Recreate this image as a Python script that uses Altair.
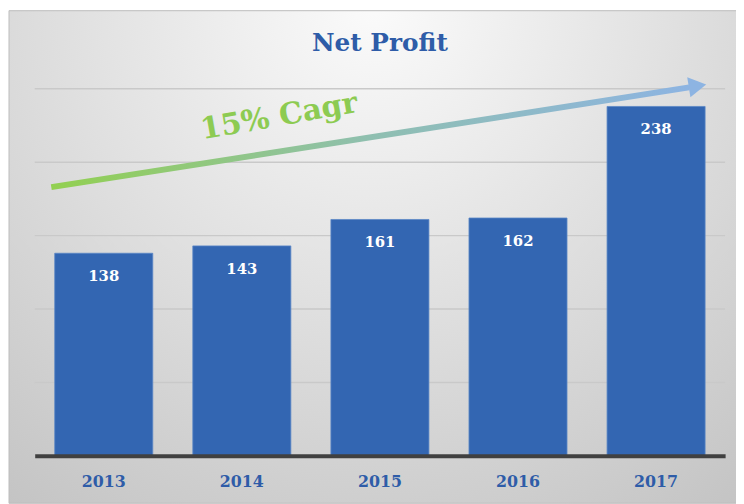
import altair as alt
import pandas as pd

years = ["2013", "2014", "2015", "2016", "2017"]
profit = [138, 143, 161, 162, 238]

# arrow annotation (x in band-index units 0..5, y in profit units)
arrow_x = [0.12, 4.74]
arrow_y = [183, 251]
head_x = [4.80]
head_y = [252]
cagr_text = ["15% Cagr"]
cagr_x = [1.77]
cagr_y = [231]

W, H = 698, 371
PAD_L, PAD_T, PAD_R, PAD_B = 27, 79, 11, 46
SERIF = "Georgia, 'DejaVu Serif', serif"

bars_df = pd.DataFrame({"year": years, "profit": profit})
arrow_df = pd.DataFrame({"x": arrow_x, "y": arrow_y})
head_df = pd.DataFrame({"x": head_x, "y": head_y})
text_df = pd.DataFrame({"t": cagr_text, "x": cagr_x, "y": cagr_y})

yscale = alt.Scale(domain=[0, 250])
xq = alt.Scale(domain=[0, 5])

bg = alt.Chart(pd.DataFrame({"a": [0]})).mark_rect(
    fill=alt.RadialGradient(
        gradient="radial",
        x1=0.5, y1=0.15, r1=0.0,
        x2=0.5, y2=0.15, r2=0.85,
        stops=[alt.GradientStop(offset=0, color="#fbfbfb"),
               alt.GradientStop(offset=1, color="#c4c4c4")],
    ),
    stroke="#bdbdbd", strokeWidth=1, clip=False,
).encode(
    x=alt.value(-PAD_L + 1), x2=alt.value(W + PAD_R + 2),
    y=alt.value(-PAD_T), y2=alt.value(H + PAD_B + 2),
)

grid = alt.Chart(pd.DataFrame({"v": [50, 100, 150, 200, 250]})).mark_rule(
    color="#c9c9c9", strokeWidth=1.5
).encode(y=alt.Y("v:Q", scale=yscale, axis=None))

bars = alt.Chart(bars_df).mark_bar(color="#3366b2", stroke="#5a86c6", strokeWidth=0.8).encode(
    x=alt.X("year:N", sort=years, scale=alt.Scale(paddingInner=0.29, paddingOuter=0.145),
            axis=alt.Axis(title=None, labelFont=SERIF, labelFontSize=16, labelFontWeight="bold",
                          labelColor="#2e5ca8", labelAngle=0, labelPadding=18, ticks=False,
                          domainColor="#404040", domainWidth=4, zindex=1)),
    y=alt.Y("profit:Q", scale=yscale, axis=None),
)

labels = alt.Chart(bars_df).mark_text(
    font=SERIF, fontSize=15, fontWeight="bold", color="white", baseline="middle", dy=23
).encode(
    x=alt.X("year:N", sort=years, scale=alt.Scale(paddingInner=0.29, paddingOuter=0.145), axis=None),
    y=alt.Y("profit:Q", scale=yscale, axis=None),
    text=alt.Text("profit:Q"),
)

arrow = alt.Chart(arrow_df).mark_line(
    strokeWidth=6, clip=False,
    stroke=alt.LinearGradient(
        gradient="linear", x1=0, y1=0, x2=1, y2=0,
        stops=[alt.GradientStop(offset=0, color="#92d050"),
               alt.GradientStop(offset=0.5, color="#8fbfb0"),
               alt.GradientStop(offset=1, color="#8db4e2")],
    ),
).encode(
    x=alt.X("x:Q", scale=xq, axis=None),
    y=alt.Y("y:Q", scale=yscale, axis=None),
)

head = alt.Chart(head_df).mark_point(
    shape="triangle-right", filled=True, color="#8db4e2", opacity=1, size=420, angle=351, clip=False
).encode(
    x=alt.X("x:Q", scale=xq, axis=None),
    y=alt.Y("y:Q", scale=yscale, axis=None),
)

cagr = alt.Chart(text_df).mark_text(
    font=SERIF, fontSize=30, fontWeight="bold", color="#8dcb52", angle=350, clip=False
).encode(
    x=alt.X("x:Q", scale=xq, axis=None),
    y=alt.Y("y:Q", scale=yscale, axis=None),
    text="t:N",
)

chart = alt.layer(bg, grid, bars, labels, arrow, head, cagr).resolve_scale(
    x="independent", y="shared"
).properties(
    width=W, height=H,
    padding={"left": PAD_L, "top": PAD_T, "right": PAD_R, "bottom": PAD_B},
    autosize=alt.AutoSizeParams(type="none"),
    title=alt.TitleParams("Net Profit", font=SERIF, fontSize=25, fontWeight="bold",
                          color="#2e5ca8", anchor="middle", offset=-46),
).configure_view(stroke=None).configure(background="white")

chart.save("out.html", embed_options={"renderer": "svg", "actions": False})
